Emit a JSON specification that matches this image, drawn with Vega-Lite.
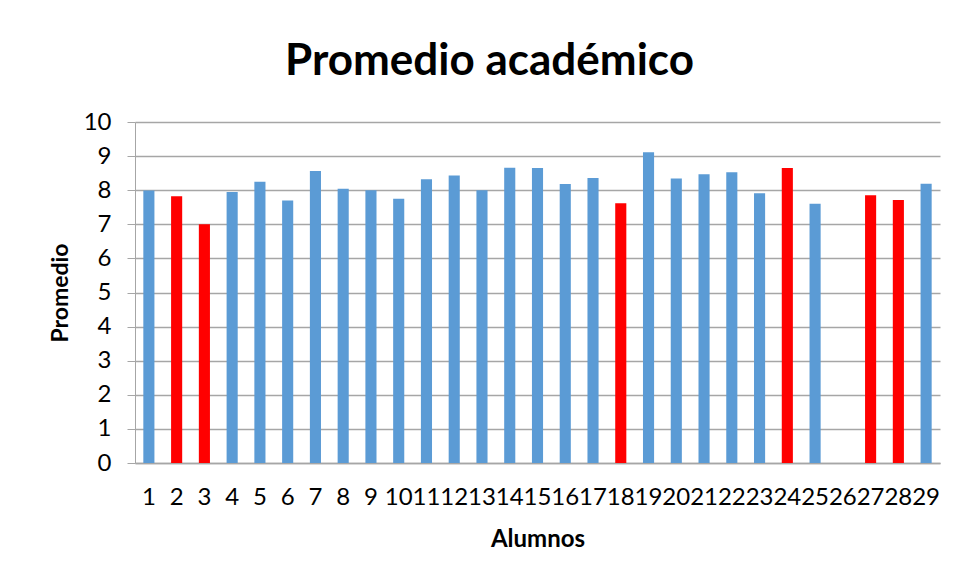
{
  "$schema": "https://vega.github.io/schema/vega-lite/v6.json",
  "width": 805,
  "height": 341,
  "autosize": {"type": "none"},
  "padding": {"left": 135, "top": 122, "right": 19, "bottom": 116},
  "background": "white",
  "title": {
    "text": "Promedio académico",
    "font": "Lato",
    "fontSize": 44,
    "fontWeight": "bold",
    "color": "#000000",
    "anchor": "middle",
    "frame": "group",
    "dx": -48,
    "offset": 26
  },
  "data": {
    "values": [
      {"alumno": "1", "promedio": 7.99, "grupo": "normal"},
      {"alumno": "2", "promedio": 7.82, "grupo": "resaltado"},
      {"alumno": "3", "promedio": 7.0, "grupo": "resaltado"},
      {"alumno": "4", "promedio": 7.95, "grupo": "normal"},
      {"alumno": "5", "promedio": 8.25, "grupo": "normal"},
      {"alumno": "6", "promedio": 7.7, "grupo": "normal"},
      {"alumno": "7", "promedio": 8.56, "grupo": "normal"},
      {"alumno": "8", "promedio": 8.04, "grupo": "normal"},
      {"alumno": "9", "promedio": 8.0, "grupo": "normal"},
      {"alumno": "10", "promedio": 7.75, "grupo": "normal"},
      {"alumno": "11", "promedio": 8.32, "grupo": "normal"},
      {"alumno": "12", "promedio": 8.43, "grupo": "normal"},
      {"alumno": "13", "promedio": 8.0, "grupo": "normal"},
      {"alumno": "14", "promedio": 8.66, "grupo": "normal"},
      {"alumno": "15", "promedio": 8.65, "grupo": "normal"},
      {"alumno": "16", "promedio": 8.18, "grupo": "normal"},
      {"alumno": "17", "promedio": 8.36, "grupo": "normal"},
      {"alumno": "18", "promedio": 7.62, "grupo": "resaltado"},
      {"alumno": "19", "promedio": 9.11, "grupo": "normal"},
      {"alumno": "20", "promedio": 8.34, "grupo": "normal"},
      {"alumno": "21", "promedio": 8.47, "grupo": "normal"},
      {"alumno": "22", "promedio": 8.53, "grupo": "normal"},
      {"alumno": "23", "promedio": 7.91, "grupo": "normal"},
      {"alumno": "24", "promedio": 8.65, "grupo": "resaltado"},
      {"alumno": "25", "promedio": 7.6, "grupo": "normal"},
      {"alumno": "27", "promedio": 7.85, "grupo": "resaltado"},
      {"alumno": "28", "promedio": 7.71, "grupo": "resaltado"},
      {"alumno": "29", "promedio": 8.19, "grupo": "normal"}
    ]
  },
  "mark": {"type": "bar"},
  "encoding": {
    "x": {
      "field": "alumno",
      "type": "ordinal",
      "scale": {
        "domain": ["1","2","3","4","5","6","7","8","9","10","11","12","13","14","15","16","17","18","19","20","21","22","23","24","25","26","27","28","29"],
        "paddingInner": 0.6,
        "paddingOuter": 0.3
      },
      "axis": {
        "title": "Alumnos",
        "titleFont": "Lato",
        "titleFontSize": 24,
        "titleFontWeight": "bold",
        "titleColor": "#000000",
        "titlePadding": 18,
        "labelFont": "Lato",
        "labelFontSize": 24,
        "labelColor": "#000000",
        "labelAngle": 0,
        "labelOverlap": false,
        "labelPadding": 22,
        "labelFlush": false,
        "ticks": false,
        "domainColor": "#A6A6A6",
        "domainWidth": 1.5,
        "grid": false
      }
    },
    "y": {
      "field": "promedio",
      "type": "quantitative",
      "scale": {"domain": [0, 10], "nice": false},
      "axis": {
        "title": "Promedio",
        "titleFont": "Lato",
        "titleFontSize": 23,
        "titleFontWeight": "bold",
        "titleColor": "#000000",
        "titlePadding": 11,
        "values": [0,1,2,3,4,5,6,7,8,9,10],
        "labelFont": "Lato",
        "labelFontSize": 24,
        "labelColor": "#000000",
        "labelPadding": 16,
        "tickSize": 8,
        "tickColor": "#A6A6A6",
        "domainColor": "#A6A6A6",
        "grid": true,
        "gridColor": "#A6A6A6",
        "gridWidth": 1.5
      }
    },
    "color": {
      "field": "grupo",
      "type": "nominal",
      "scale": {"domain": ["normal", "resaltado"], "range": ["#5B9BD5", "#FF0000"]},
      "legend": null
    }
  },
  "config": {"view": {"stroke": null}}
}
